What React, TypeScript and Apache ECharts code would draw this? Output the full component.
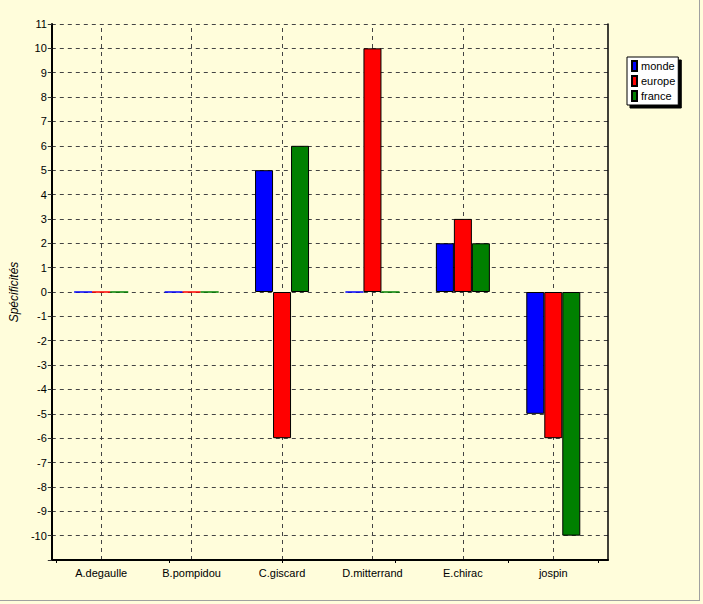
import React, { useEffect, useRef } from "react";
import * as echarts from "echarts";

const categories = ["A.degaulle", "B.pompidou", "C.giscard", "D.mitterrand", "E.chirac", "jospin"];
const monde = [0, 0, 5, 0, 2, -5];
const europe = [0, 0, -6, 10, 3, -6];
const france = [0, 0, 6, 0, 2, -10];
const seriesNames = ["monde", "europe", "france"];
const seriesColors = ["#0000ff", "#ff0000", "#008000"];
const yMin = -11;
const yMax = 11;
const yTitle = "Spécificités";

const FONT = "'Liberation Sans', Arial, sans-serif";

export default function App() {
  const ref = useRef<HTMLDivElement>(null);
  useEffect(() => {
    if (!ref.current) return;
    const chart = echarts.init(ref.current, undefined, { renderer: "svg" });
    const quarterCats = categories.flatMap((c) => [c + "#1", c + "#2", c + "#3", c + "#4"]);
    const values = [monde, europe, france];
    const option: any = {
      animation: false,
      backgroundColor: "#fffddb",
      textStyle: { fontFamily: FONT },
      grid: [
        { left: 56, right: 104.5, top: 24, bottom: 44 },
        { left: 47, right: 95, top: 24, bottom: 44 },
      ],
      legend: {
        orient: "vertical",
        left: 627,
        top: 57,
        data: seriesNames,
        icon: "rect",
        itemWidth: 5,
        itemHeight: 10,
        itemGap: 3,
        padding: [3, 3, 3, 4],
        backgroundColor: "#ffffff",
        borderColor: "#000000",
        borderWidth: 1,
        borderRadius: 0,
        shadowColor: "#000000",
        shadowBlur: 0,
        shadowOffsetX: 3,
        shadowOffsetY: 3,
        textStyle: { fontSize: 11, color: "#000", fontFamily: FONT, padding: [0, 0, 0, -1] },
      },
      xAxis: [
        {
          type: "category",
          gridIndex: 0,
          data: categories,
          position: "bottom",
          axisLine: { show: false },
          axisTick: { show: false },
          splitLine: { show: false },
          axisLabel: { color: "#000", fontSize: 11, margin: 7, fontFamily: FONT },
        },
        {
          type: "category",
          gridIndex: 0,
          data: quarterCats,
          position: "bottom",
          axisLine: { show: false },
          axisTick: { show: true, length: 3, lineStyle: { color: "#000" } },
          axisLabel: { show: false },
          splitLine: { show: false },
        },
        {
          type: "value",
          gridIndex: 1,
          min: 0,
          max: 1,
          position: "bottom",
          axisLine: { show: true, onZero: false, lineStyle: { color: "#000", width: 2 } },
          axisTick: { show: false },
          axisLabel: { show: false },
          splitLine: { show: false },
        },
      ],
      yAxis: [
        { type: "value", gridIndex: 0, min: yMin, max: yMax, show: false },
        {
          type: "value",
          gridIndex: 1,
          min: yMin,
          max: yMax,
          interval: 1,
          name: yTitle,
          nameLocation: "middle",
          nameGap: 23,
          nameTextStyle: { fontStyle: "italic", fontSize: 12, color: "#000", fontFamily: FONT },
          axisLine: { show: true, lineStyle: { color: "#000", width: 2 } },
          axisTick: { show: true, length: 4, lineStyle: { color: "#333" } },
          axisLabel: {
            color: "#000",
            fontSize: 11,
            margin: 5,
            fontFamily: FONT,
            formatter: (v: number) => (v === yMin ? "" : String(v)),
          },
          splitLine: { show: true, lineStyle: { color: "#444", type: [4, 4], width: 1 } },
        },
        {
          type: "value",
          gridIndex: 1,
          min: yMin,
          max: yMax,
          position: "right",
          axisLine: { show: true, lineStyle: { color: "#000", width: 1.5 } },
          axisTick: { show: false },
          axisLabel: { show: false },
          splitLine: { show: false },
        },
      ],
      series: seriesNames.map((name, i) => ({
        name,
        type: "bar",
        xAxisIndex: 0,
        yAxisIndex: 0,
        data: values[i].map((v) =>
          v === 0 ? { value: v, itemStyle: { borderColor: seriesColors[i] } } : v
        ),
        barWidth: 18,
        barGap: "0%",
        itemStyle: { color: seriesColors[i], borderColor: "#000", borderWidth: 1 },
        ...(i === 1
          ? {
              markLine: {
                silent: true,
                symbol: ["none", "none"],
                label: { show: false },
                lineStyle: { color: "#444", type: [4, 4], width: 1 },
                data: categories.map((c) => ({ xAxis: c })),
                z: 0,
              },
            }
          : {}),
      })),
      graphic: [
        { type: "line", shape: { x1: 699.5, y1: 0, x2: 699.5, y2: 600.5 }, style: { stroke: "#a0a0a0", lineWidth: 1 } },
        { type: "line", shape: { x1: 0, y1: 600.5, x2: 700, y2: 600.5 }, style: { stroke: "#a0a0a0", lineWidth: 1 } },
      ],
    };
    chart.setOption(option);
    return () => chart.dispose();
  }, []);
  return (
    <div
      ref={ref}
      style={{ position: "absolute", left: 0, top: 0, width: 703, height: 604 }}
    />
  );
}
